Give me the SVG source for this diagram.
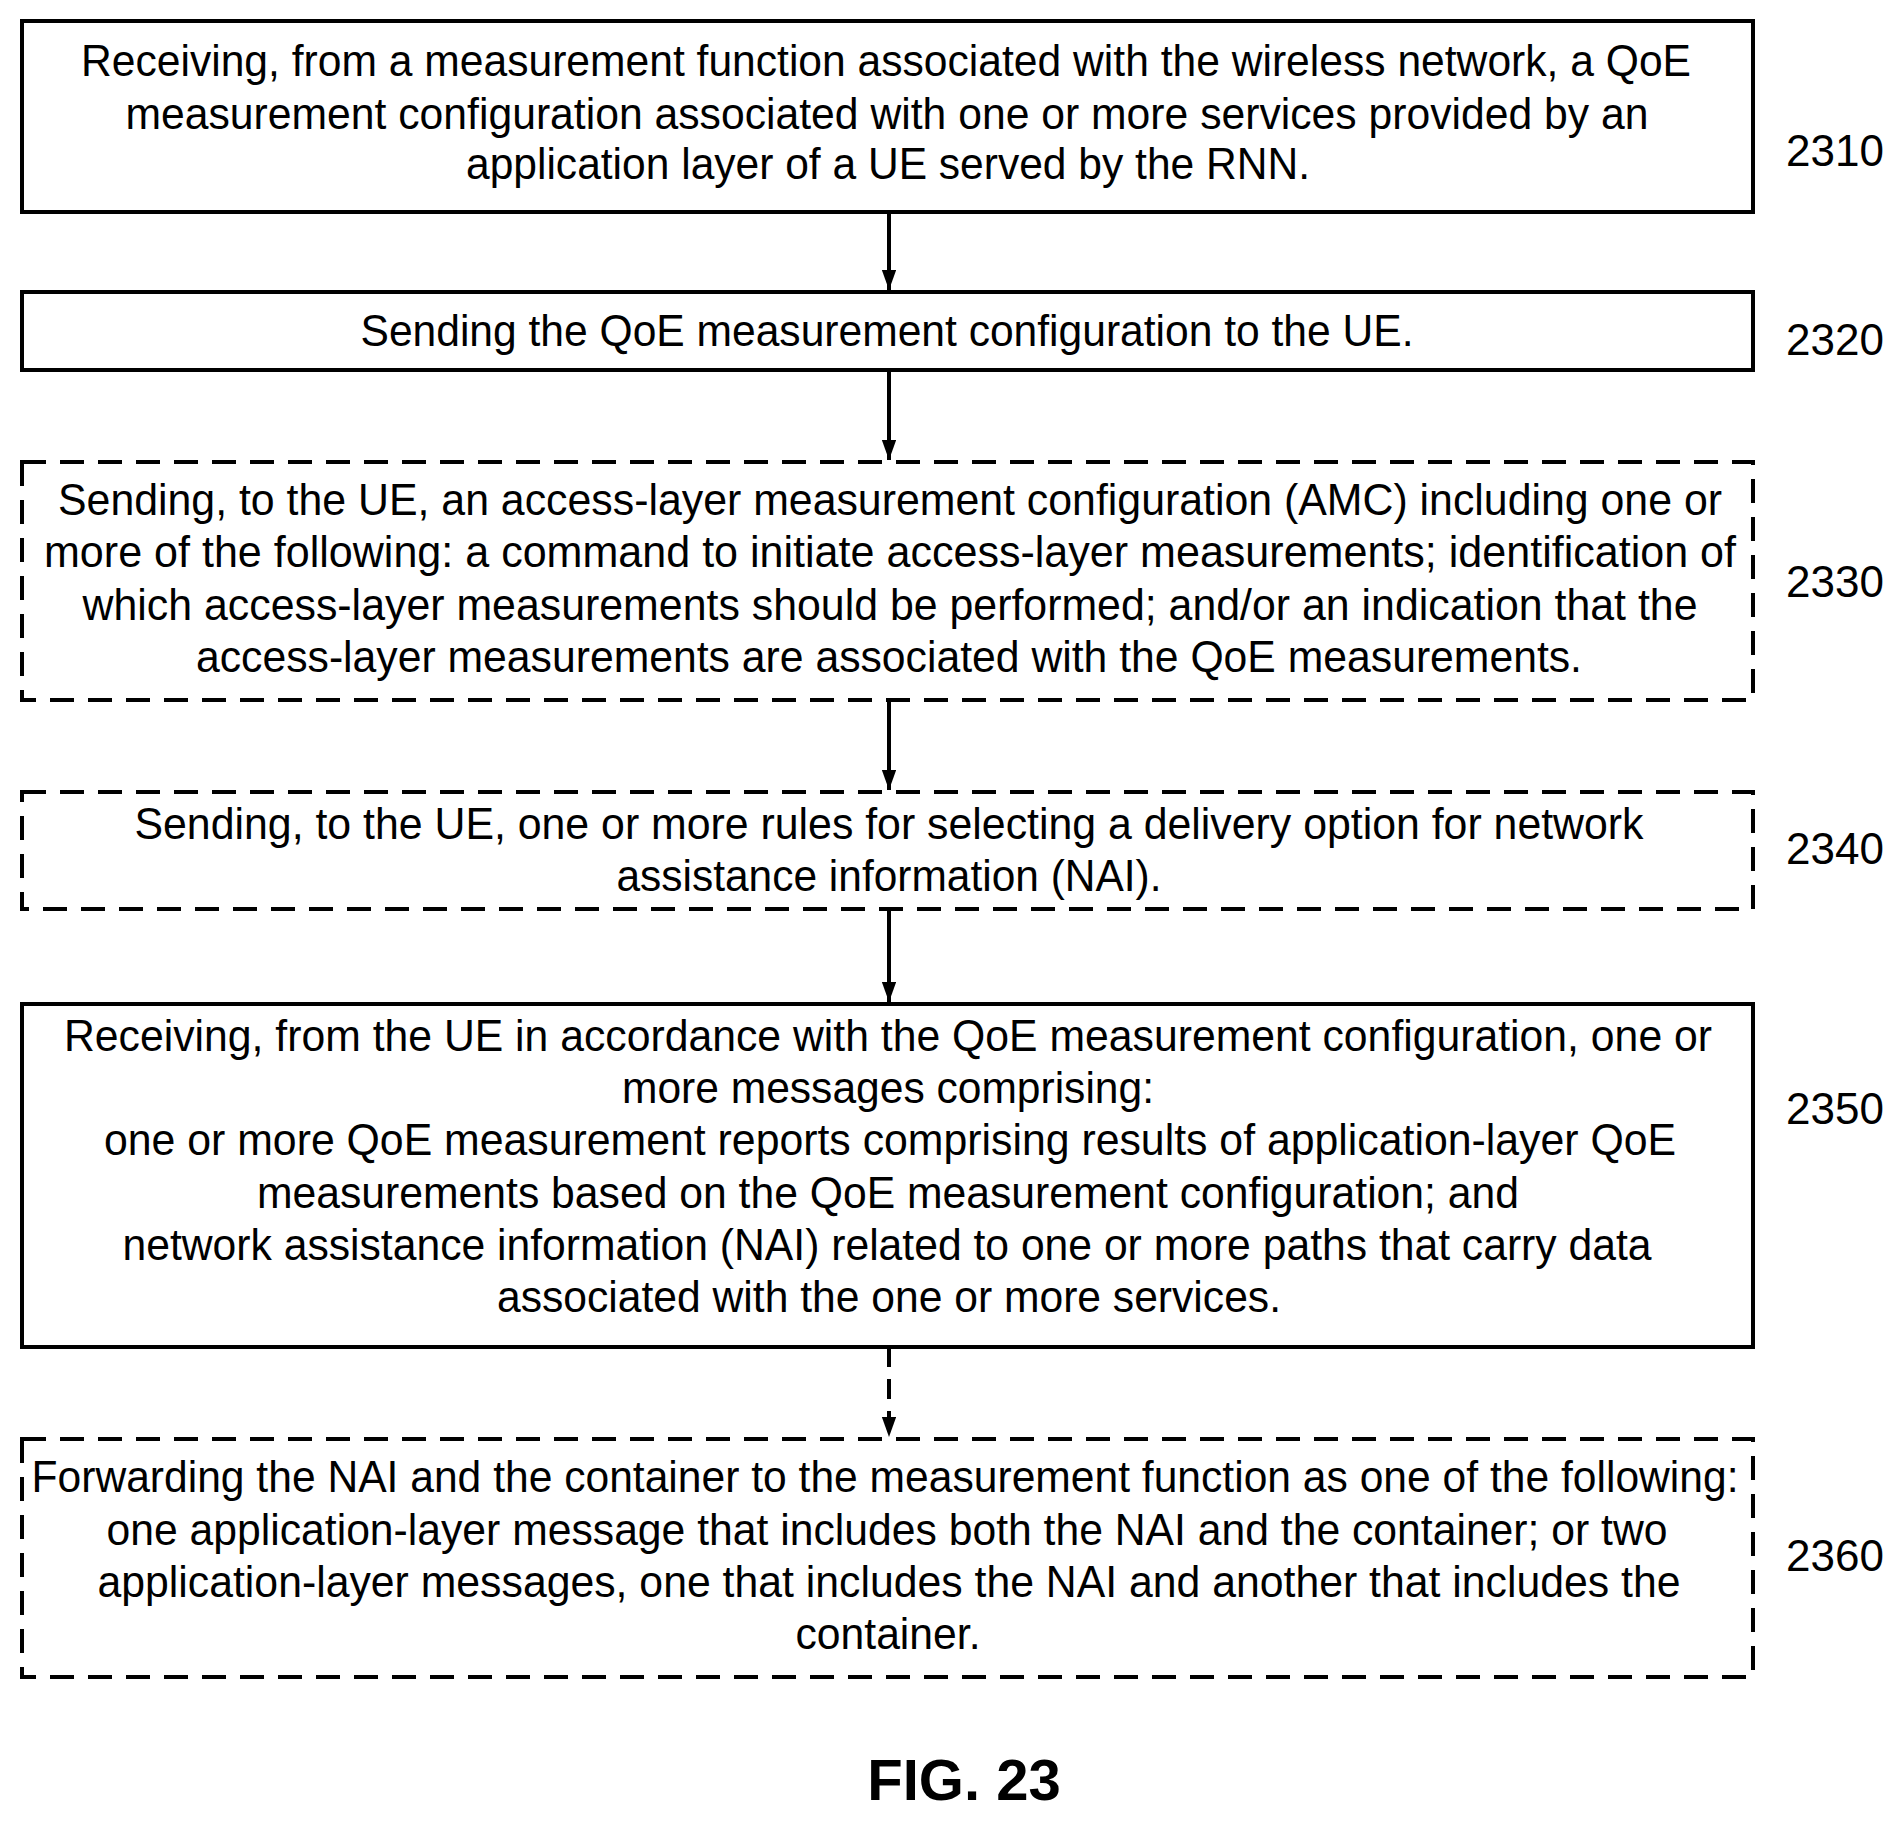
<svg xmlns="http://www.w3.org/2000/svg" width="1901" height="1821" viewBox="0 0 1901 1821">
<style>
.b{fill:none;stroke:#000;stroke-width:4}
.d{stroke-dasharray:24 14}
text{font-family:"Liberation Sans",Arial,sans-serif;font-size:44px;text-anchor:middle;fill:#000}
.c line{stroke:#000;stroke-width:4}
</style>
<defs><marker id="ah" markerWidth="10" markerHeight="10" refX="9" refY="5" orient="auto" markerUnits="userSpaceOnUse" viewBox="0 0 10 10"><path d="M0,0L10,5L0,10z" fill="#000"/></marker>
<marker id="a" viewBox="0 0 20 28" refX="28" refY="10" markerWidth="28" markerHeight="20" orient="auto" markerUnits="userSpaceOnUse"><path d="M0,0L28,10L0,20z" fill="#000"/></marker></defs>
<rect width="1901" height="1821" fill="#fff"/>
<g class="c">
<line x1="889" y1="212" x2="889" y2="290" marker-end="url(#a)"/>
<line x1="889" y1="370" x2="889" y2="460" marker-end="url(#a)"/>
<line x1="889" y1="700" x2="889" y2="790" marker-end="url(#a)"/>
<line x1="889" y1="909" x2="889" y2="1002" marker-end="url(#a)"/>
<line x1="889" y1="1347" x2="889" y2="1437" marker-end="url(#a)" stroke-dasharray="20 12"/>
</g>
<g id="n2310"><rect class="b" x="22" y="21" width="1731" height="191"/>
<text x="886" y="76" textLength="1610" lengthAdjust="spacingAndGlyphs">Receiving, from a measurement function associated with the wireless network, a QoE</text>
<text x="887" y="129" textLength="1523" lengthAdjust="spacingAndGlyphs">measurement configuration associated with one or more services provided by an</text>
<text x="888" y="179" textLength="844" lengthAdjust="spacingAndGlyphs">application layer of a UE served by the RNN.</text>
<text x="1835" y="166">2310</text></g>
<g id="n2320"><rect class="b" x="22" y="292" width="1731" height="78"/>
<text x="887" y="346" textLength="1053" lengthAdjust="spacingAndGlyphs">Sending the QoE measurement configuration to the UE.</text>
<text x="1835" y="355">2320</text></g>
<g id="n2330"><rect class="b d" x="22" y="462" width="1731" height="238"/>
<text x="890" y="515" textLength="1664" lengthAdjust="spacingAndGlyphs">Sending, to the UE, an access-layer measurement configuration (AMC) including one or</text>
<text x="890" y="567" textLength="1692" lengthAdjust="spacingAndGlyphs">more of the following:  a command to initiate access-layer measurements; identification of</text>
<text x="890" y="620" textLength="1615" lengthAdjust="spacingAndGlyphs">which access-layer measurements should be performed; and/or an indication that the</text>
<text x="889" y="672" textLength="1386" lengthAdjust="spacingAndGlyphs">access-layer measurements are associated with the QoE measurements.</text>
<text x="1835" y="597">2330</text></g>
<g id="n2340"><rect class="b d" x="22" y="792" width="1731" height="117"/>
<text x="889" y="839" textLength="1509" lengthAdjust="spacingAndGlyphs">Sending, to the UE, one or more rules for selecting a delivery option for network</text>
<text x="889" y="891" textLength="545" lengthAdjust="spacingAndGlyphs">assistance information (NAI).</text>
<text x="1835" y="864">2340</text></g>
<g id="n2350"><rect class="b" x="22" y="1004" width="1731" height="343"/>
<text x="888" y="1051" textLength="1648" lengthAdjust="spacingAndGlyphs">Receiving, from the UE in accordance with the QoE measurement configuration, one or</text>
<text x="888" y="1103" textLength="532" lengthAdjust="spacingAndGlyphs">more messages comprising:</text>
<text x="890" y="1155" textLength="1572" lengthAdjust="spacingAndGlyphs">one or more QoE measurement reports comprising results of application-layer QoE</text>
<text x="888" y="1208" textLength="1262" lengthAdjust="spacingAndGlyphs">measurements based on the QoE measurement configuration; and</text>
<text x="887" y="1260" textLength="1529" lengthAdjust="spacingAndGlyphs">network assistance information (NAI) related to one or more paths that carry data</text>
<text x="889" y="1312" textLength="784" lengthAdjust="spacingAndGlyphs">associated with the one or more services.</text>
<text x="1835" y="1124">2350</text></g>
<g id="n2360"><rect class="b d" x="22" y="1439" width="1731" height="238"/>
<text x="885" y="1492" textLength="1707" lengthAdjust="spacingAndGlyphs">Forwarding the NAI and the container to the measurement function as one of the following:</text>
<text x="887" y="1545" textLength="1561" lengthAdjust="spacingAndGlyphs">one application-layer message that includes both the NAI and the container; or two</text>
<text x="889" y="1597" textLength="1583" lengthAdjust="spacingAndGlyphs">application-layer messages, one that includes the NAI and another that includes the</text>
<text x="888" y="1649" textLength="185" lengthAdjust="spacingAndGlyphs">container.</text>
<text x="1835" y="1571">2360</text></g>
<text x="964" y="1800" style="font-size:58px;font-weight:bold">FIG. 23</text>
</svg>
